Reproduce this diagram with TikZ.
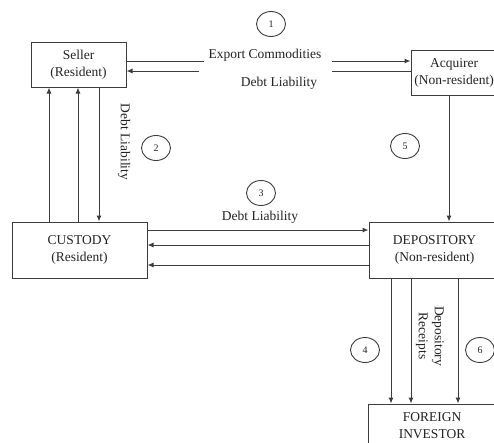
\documentclass[tikz,border=0pt]{standalone}
\usepackage{fontspec}
\setmainfont{Liberation Serif}
\usetikzlibrary{arrows.meta,shapes.geometric}
\definecolor{linec}{HTML}{3C3C3C}
\definecolor{txtc}{HTML}{222222}
\newcommand{\fs}{\fontsize{13.5}{17}\selectfont}
\begin{document}
\begin{tikzpicture}[x=1pt,y=-1pt,
  box/.style={draw=linec, line width=1pt, inner sep=0pt, align=center, font=\fs, text=txtc},
  lbl/.style={font=\fs, text=txtc, inner sep=0pt, align=center},
  plain/.style={draw=linec, line width=1pt},
  arr/.style={draw=linec, line width=1pt, -{Latex[length=6pt,width=5pt]}},
  num/.style={ellipse, draw=linec, line width=0.9pt, minimum width=29pt, minimum height=25pt, inner sep=0pt, text=txtc, font=\fontsize{10}{11}\selectfont}]
\useasboundingbox (0,0) rectangle (494,442);
% boxes
\node[box, minimum width=95pt, minimum height=45pt] (seller) at (78.5,64.5) {Seller\\(Resident)};
\node[box, minimum width=86pt, minimum height=45pt] (acq) at (454,72.5) {Acquirer\\(Non-resident)};
\node[box, minimum width=135pt, minimum height=56pt] (cust) at (79.5,250) {CUSTODY\\(Resident)};
\node[box, minimum width=131pt, minimum height=56pt] (dep) at (434.5,250) {DEPOSITORY\\(Non-resident)};
\node[box, minimum width=128pt, minimum height=44pt] (inv) at (432,426) {FOREIGN\\INVESTOR};
% Seller - Acquirer
\coordinate (g1) at (204,61);
\coordinate (g2) at (332,61);
\coordinate (g3) at (199,71);
\coordinate (g4) at (332,71);
\draw[plain] (seller.east |- g1) -- (g1);
\draw[arr] (g2) -- (acq.west |- g2);
\draw[plain] (acq.west |- g4) -- (g4);
\draw[arr] (g3) -- (seller.east |- g3);
\node[lbl] (ec) at (265,55) {Export Commodities};
\node[lbl] (dl1) at (279,83) {Debt Liability};
\node[num] (n1) at (271,24) {1};
% Seller - Custody
\coordinate (xa) at (49,0);
\coordinate (xb) at (78,0);
\coordinate (xc) at (99,0);
\draw[arr] (cust.north -| xa) -- (seller.south -| xa);
\draw[arr] (cust.north -| xb) -- (seller.south -| xb);
\draw[arr] (seller.south -| xc) -- (cust.north -| xc);
\node[lbl, rotate=-90] (dl2) at (124,142) {Debt Liability};
\node[num] (n2) at (156,148) {2};
% Custody - Depository
\coordinate (ya) at (0,230);
\coordinate (yb) at (0,245);
\coordinate (yc) at (0,265);
\draw[arr] (cust.east |- ya) -- (dep.west |- ya);
\draw[arr] (dep.west |- yb) -- (cust.east |- yb);
\draw[arr] (dep.west |- yc) -- (cust.east |- yc);
\node[lbl] (dl3) at (260,217) {Debt Liability};
\node[num] (n3) at (261,193) {3};
% Acquirer - Depository
\coordinate (xd) at (449,0);
\draw[arr] (acq.south -| xd) -- (dep.north -| xd);
\node[num] (n5) at (405,146) {5};
% Depository - Foreign investor
\coordinate (xe) at (391,0);
\coordinate (xf) at (411,0);
\coordinate (xg) at (458,0);
\draw[arr] (dep.south -| xe) -- (inv.north -| xe);
\draw[arr] (dep.south -| xf) -- (inv.north -| xf);
\draw[arr] (dep.south -| xg) -- (inv.north -| xg);
\node[lbl, rotate=-90, font=\fontsize{13.5}{16}\selectfont] (dr) at (430,336) {Depository\\Receipts};
\node[num] (n4) at (365,350) {4};
\node[num] (n6) at (480,350) {6};
\end{tikzpicture}
\end{document}
